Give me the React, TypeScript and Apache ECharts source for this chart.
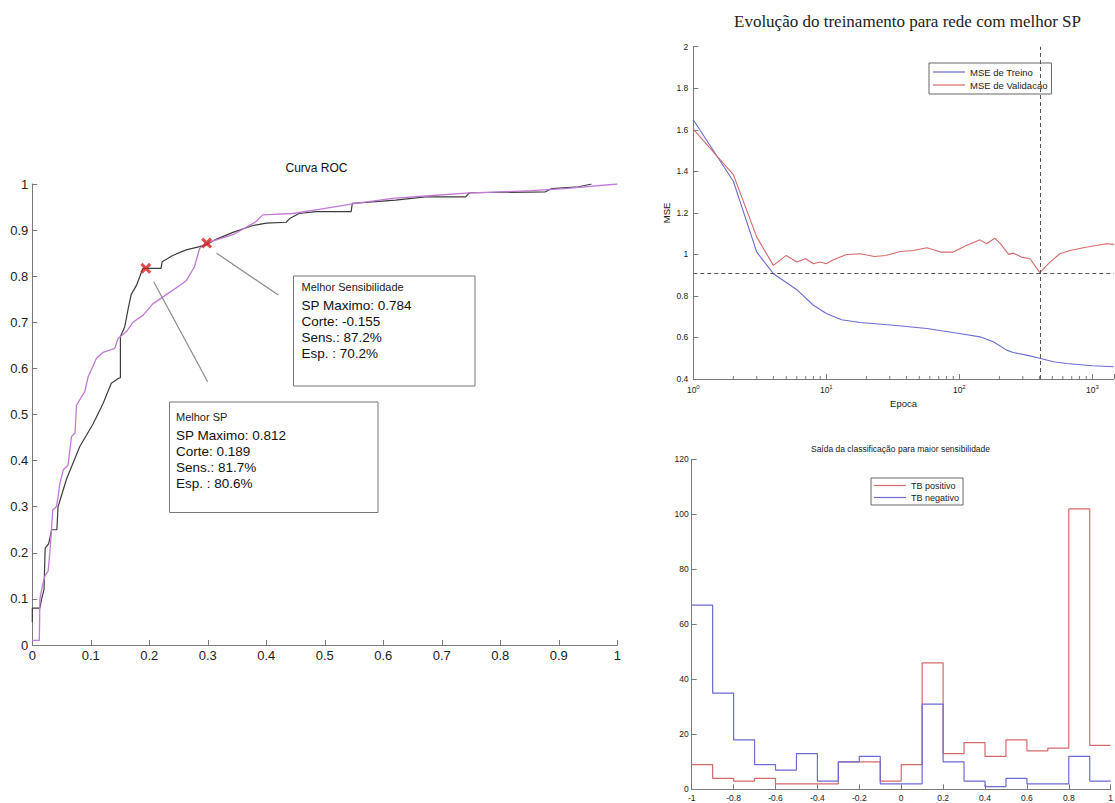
import React, { useEffect, useRef } from 'react';
import * as echarts from 'echarts';

// ---------- ROC data ----------
const rocBlack: number[][] = [
  [0, 0.05], [0, 0.08], [0.013, 0.08], [0.016, 0.1], [0.02, 0.12], [0.022, 0.21], [0.028, 0.22],
  [0.033, 0.25], [0.042, 0.25], [0.044, 0.3], [0.0585, 0.36], [0.081, 0.43], [0.104, 0.48],
  [0.121, 0.524], [0.135, 0.568], [0.147, 0.578], [0.1506, 0.58], [0.1506, 0.669], [0.158, 0.69],
  [0.164, 0.73], [0.169, 0.76], [0.178, 0.78], [0.184, 0.8], [0.189, 0.817], [0.22, 0.817],
  [0.222, 0.8315], [0.24, 0.845], [0.263, 0.857], [0.286, 0.864], [0.297, 0.868], [0.314, 0.88],
  [0.343, 0.895], [0.377, 0.91], [0.4, 0.915], [0.434, 0.917], [0.44, 0.925], [0.456, 0.936],
  [0.485, 0.94], [0.545, 0.94], [0.547, 0.958], [0.621, 0.965], [0.672, 0.972], [0.741, 0.972],
  [0.747, 0.981], [0.877, 0.983], [0.888, 0.99], [0.934, 0.994], [0.956, 1.0],
];
const rocPurple: number[][] = [
  [0, 0.01], [0.012, 0.01], [0.013, 0.1], [0.0176, 0.13], [0.0216, 0.15], [0.027, 0.16], [0.03, 0.2],
  [0.035, 0.293], [0.041, 0.3], [0.044, 0.32], [0.047, 0.35], [0.053, 0.38], [0.061, 0.39],
  [0.064, 0.42], [0.067, 0.452], [0.073, 0.46], [0.0756, 0.52], [0.0898, 0.55], [0.0955, 0.582],
  [0.1097, 0.622], [0.121, 0.635], [0.141, 0.6435], [0.1466, 0.665], [0.161, 0.68], [0.172, 0.7],
  [0.189, 0.715], [0.206, 0.74], [0.229, 0.76], [0.252, 0.78], [0.263, 0.79], [0.277, 0.82],
  [0.286, 0.86], [0.297, 0.872], [0.343, 0.89], [0.382, 0.918], [0.394, 0.933], [0.445, 0.936],
  [0.49, 0.945], [0.553, 0.958], [0.616, 0.969], [0.673, 0.974], [0.741, 0.98], [0.854, 0.9855],
  [0.91, 0.99], [1, 1],
];
const bestPoints: number[][] = [[0.194, 0.817], [0.298, 0.872]];
const connectorSP: number[][] = [[0.2075, 0.788], [0.2998, 0.571]];
const connectorSens: number[][] = [[0.315, 0.85], [0.4205, 0.759]];
const boxSP = ['SP Maximo: 0.812', 'Corte: 0.189', 'Sens.: 81.7%', 'Esp. : 80.6%'];
const boxSens = ['SP Maximo: 0.784', 'Corte: -0.155', 'Sens.: 87.2%', 'Esp. : 70.2%'];

// ---------- MSE data ----------
const trainEpochs = [1, 2, 3, 4, 5, 6, 8, 10, 13, 18, 32, 57, 100, 143, 180, 227, 254, 320, 403, 510, 640, 1000, 1450];
const trainMse = [1.648, 1.352, 1.011, 0.907, 0.865, 0.83, 0.755, 0.715, 0.685, 0.672, 0.659, 0.643, 0.619, 0.603, 0.579, 0.539, 0.528, 0.515, 0.5, 0.483, 0.475, 0.464, 0.459];
const valEpochs = [1, 2, 3, 4, 5, 6, 7, 8, 9, 10, 11, 14, 18, 23, 28, 36, 45, 57, 64, 72, 90, 113, 143, 160, 185, 204, 235, 255, 293, 340, 403, 480, 570, 680, 855, 1015, 1280, 1450];
const valMse = [1.603, 1.384, 1.083, 0.947, 0.995, 0.963, 0.979, 0.955, 0.963, 0.955, 0.971, 0.998, 1.003, 0.99, 0.995, 1.014, 1.019, 1.032, 1.022, 1.011, 1.011, 1.043, 1.07, 1.051, 1.078, 1.051, 1.0, 1.006, 0.987, 0.979, 0.912, 0.963, 1.003, 1.019, 1.032, 1.04, 1.051, 1.048];
const bestEpoch = 403;
const bestMse = 0.912;
const logMinorTicks = [2, 3, 4, 5, 6, 7, 8, 9, 20, 30, 40, 50, 60, 70, 80, 90, 200, 300, 400, 500, 600, 700, 800, 900];

// ---------- Histogram data ----------
const binEdges = [-1, -0.9, -0.8, -0.7, -0.6, -0.5, -0.4, -0.3, -0.2, -0.1, 0, 0.1, 0.2, 0.3, 0.4, 0.5, 0.6, 0.7, 0.8, 0.9];
const binEnd = 1;
const tbPositivo = [9, 4, 3, 4, 2, 2, 2, 10, 10, 3, 9, 46, 13, 17, 12, 18, 14, 15, 102, 16];
const tbNegativo = [67, 35, 18, 9, 7, 13, 3, 10, 12, 2, 2, 31, 10, 3, 1, 4, 2, 2, 12, 3];

const FONT = '"Liberation Sans", Arial, sans-serif';
const AXIS = '#7a7a7a';
const LBL = '#222';
const BLUE = '#6b6bd4';
const RED = '#d46a6a';
const LINE_ICON = 'path://M0,0H32V1.2H0Z';

function stairs(vals: number[]) {
  const d = binEdges.map((e, i) => [e, vals[i]]);
  d.push([binEnd, vals[vals.length - 1]]);
  return d;
}

function valueAxis(gridIndex: number, min: number, max: number, interval: number, fontSize: number, margin: number) {
  return {
    type: 'value', gridIndex, min, max, interval,
    axisLine: { show: true, onZero: false, lineStyle: { color: AXIS, width: 1 } },
    axisTick: { show: true, inside: true, length: 5, lineStyle: { color: AXIS } },
    axisLabel: { color: LBL, fontSize, fontFamily: FONT, margin },
    splitLine: { show: false },
  };
}

function boxGraphic(x: number, y: number, w: number, h: number, title: string, lines: string[], tx: number, titleDy: number, firstDy: number) {
  const children: any[] = [
    { type: 'rect', shape: { x, y, width: w, height: h }, style: { fill: '#fff', stroke: '#777', lineWidth: 1 } },
    { type: 'text', x: x + tx, y: y + titleDy, style: { text: title, font: `11px ${FONT}`, fill: '#222', textVerticalAlign: 'middle' } },
  ];
  lines.forEach((t, i) => {
    children.push({ type: 'text', x: x + tx, y: y + firstDy + i * 16, style: { text: t, font: `13.5px ${FONT}`, fill: '#111', textVerticalAlign: 'middle' } });
  });
  return { type: 'group', children };
}

export default function App() {
  const ref = useRef<HTMLDivElement>(null);
  useEffect(() => {
    const chart = echarts.init(ref.current!, null, { renderer: 'svg', width: 1115, height: 803 });
    const option: any = {
      animation: false,
      backgroundColor: '#fff',
      textStyle: { fontFamily: FONT },
      grid: [
        { left: 32.3, top: 184, width: 585, height: 461, outerBoundsMode: 'none' },
        { left: 693.3, top: 46.7, width: 420.5, height: 332.3, outerBoundsMode: 'none' },
        { left: 691.7, top: 459.3, width: 419, height: 330, outerBoundsMode: 'none' },
      ],
      xAxis: [
        valueAxis(0, 0, 1, 0.1, 13, 4),
        {
          type: 'log', gridIndex: 1, min: 1, max: 1450, logBase: 10,
          name: 'Epoca', nameLocation: 'middle', nameGap: 19,
          nameTextStyle: { color: LBL, fontSize: 9.5, fontFamily: FONT },
          axisLine: { show: true, onZero: false, lineStyle: { color: AXIS } },
          axisTick: { show: true, inside: true, length: 5, lineStyle: { color: AXIS } },
          axisLabel: {
            color: LBL, margin: 5,
            formatter: (v: number) => {
              const e = Math.log10(v);
              if (Math.abs(e - Math.round(e)) > 1e-6) return '';
              return '{b|10}{s|' + Math.round(e) + '}';
            },
            rich: {
              b: { fontSize: 8.5, fontFamily: FONT, color: LBL },
              s: { fontSize: 6, fontFamily: FONT, color: LBL, verticalAlign: 'top', padding: [0, 0, 5, 0] },
            },
          },
          splitLine: { show: false },
        },
        valueAxis(2, -1, 1, 0.2, 8.5, 4),
      ],
      yAxis: [
        valueAxis(0, 0, 1, 0.1, 13, 4),
        Object.assign(valueAxis(1, 0.4, 2, 0.2, 8.5, 5), {
          name: 'MSE', nameLocation: 'middle', nameGap: 22,
          nameTextStyle: { color: LBL, fontSize: 9.5, fontFamily: FONT },
        }),
        valueAxis(2, 0, 120, 20, 8.5, 3),
      ],
      legend: [
        {
          data: ['MSE de Treino', 'MSE de Validacao'], orient: 'vertical', left: 929, top: 63,
          padding: [4, 4, 4, 4], itemGap: 3, itemWidth: 32, itemHeight: 1.2, icon: LINE_ICON,
          borderColor: '#666', borderWidth: 1, backgroundColor: '#fff',
          textStyle: { fontSize: 9.5, color: '#222', fontFamily: FONT },
        },
        {
          data: ['TB positivo', 'TB negativo'], orient: 'vertical', left: 871, top: 478,
          padding: [3, 4, 3, 3], itemGap: 3, itemWidth: 32, itemHeight: 1.2, icon: LINE_ICON,
          borderColor: '#666', borderWidth: 1, backgroundColor: '#fff',
          textStyle: { fontSize: 9, color: '#222', fontFamily: FONT },
        },
      ],
      series: [
        { type: 'line', xAxisIndex: 0, yAxisIndex: 0, data: rocBlack, symbol: 'none', lineStyle: { color: '#3d3d3d', width: 1.2 }, silent: true },
        { type: 'line', xAxisIndex: 0, yAxisIndex: 0, data: rocPurple, symbol: 'none', lineStyle: { color: '#c27ad6', width: 1.3 }, silent: true },
        { type: 'line', xAxisIndex: 0, yAxisIndex: 0, data: connectorSP, symbol: 'none', lineStyle: { color: '#8a8a8a', width: 1.2 }, silent: true },
        { type: 'line', xAxisIndex: 0, yAxisIndex: 0, data: connectorSens, symbol: 'none', lineStyle: { color: '#8a8a8a', width: 1.2 }, silent: true },
        {
          type: 'scatter', xAxisIndex: 0, yAxisIndex: 0, data: bestPoints, z: 5,
          symbol: 'path://M2,0L5,3L8,0L10,2L7,5L10,8L8,10L5,7L2,10L0,8L3,5L0,2Z',
          symbolSize: 11, itemStyle: { color: '#d42020' }, silent: true,
        },
        {
          name: 'MSE de Treino', type: 'line', xAxisIndex: 1, yAxisIndex: 1,
          data: trainEpochs.map((e, i) => [e, trainMse[i]]), symbol: 'none',
          lineStyle: { color: BLUE, width: 1.1 }, itemStyle: { color: BLUE },
        },
        {
          name: 'MSE de Validacao', type: 'line', xAxisIndex: 1, yAxisIndex: 1,
          data: valEpochs.map((e, i) => [e, valMse[i]]), symbol: 'none',
          lineStyle: { color: RED, width: 1.1 }, itemStyle: { color: RED },
          markLine: {
            silent: true, symbol: 'none', label: { show: false },
            lineStyle: { type: [4, 3], color: '#555', width: 1 },
            data: [{ yAxis: bestMse }, { xAxis: bestEpoch }],
          },
        },
        {
          type: 'custom', xAxisIndex: 1, yAxisIndex: 1, silent: true, clip: false,
          data: logMinorTicks.map((v) => [v, 0.4]),
          renderItem: (params: any, api: any) => {
            const p = api.coord([api.value(0), api.value(1)]);
            return { type: 'line', shape: { x1: p[0], y1: p[1], x2: p[0], y2: p[1] - 3 }, style: { stroke: AXIS, lineWidth: 1 } };
          },
        },
        {
          name: 'TB positivo', type: 'line', xAxisIndex: 2, yAxisIndex: 2, data: stairs(tbPositivo),
          step: 'end', symbol: 'none', lineStyle: { color: RED, width: 1.2 }, itemStyle: { color: RED },
        },
        {
          name: 'TB negativo', type: 'line', xAxisIndex: 2, yAxisIndex: 2, data: stairs(tbNegativo),
          step: 'end', symbol: 'none', lineStyle: { color: BLUE, width: 1.2 }, itemStyle: { color: BLUE },
        },
      ],
      graphic: [
        { type: 'text', x: 316.5, y: 168, style: { text: 'Curva ROC', font: `12px ${FONT}`, fill: '#111', textAlign: 'center', textVerticalAlign: 'middle' } },
        { type: 'text', x: 907.5, y: 21.5, style: { text: 'Evolução do treinamento para rede com melhor SP', font: '17px "Liberation Serif", serif', fill: '#222', textAlign: 'center', textVerticalAlign: 'middle' } },
        { type: 'text', x: 900.5, y: 449, style: { text: 'Saída da classificação para maior sensibilidade', font: `8.5px ${FONT}`, fill: '#222', textAlign: 'center', textVerticalAlign: 'middle' } },
        boxGraphic(169.5, 402, 208.5, 110.5, 'Melhor SP', boxSP, 6.5, 15, 33),
        boxGraphic(293.5, 276, 181.5, 110, 'Melhor Sensibilidade', boxSens, 8, 11, 29),
      ],
    };
    chart.setOption(option);
    return () => chart.dispose();
  }, []);
  return <div ref={ref} style={{ position: 'absolute', left: 0, top: 0, width: 1115, height: 803 }} />;
}
